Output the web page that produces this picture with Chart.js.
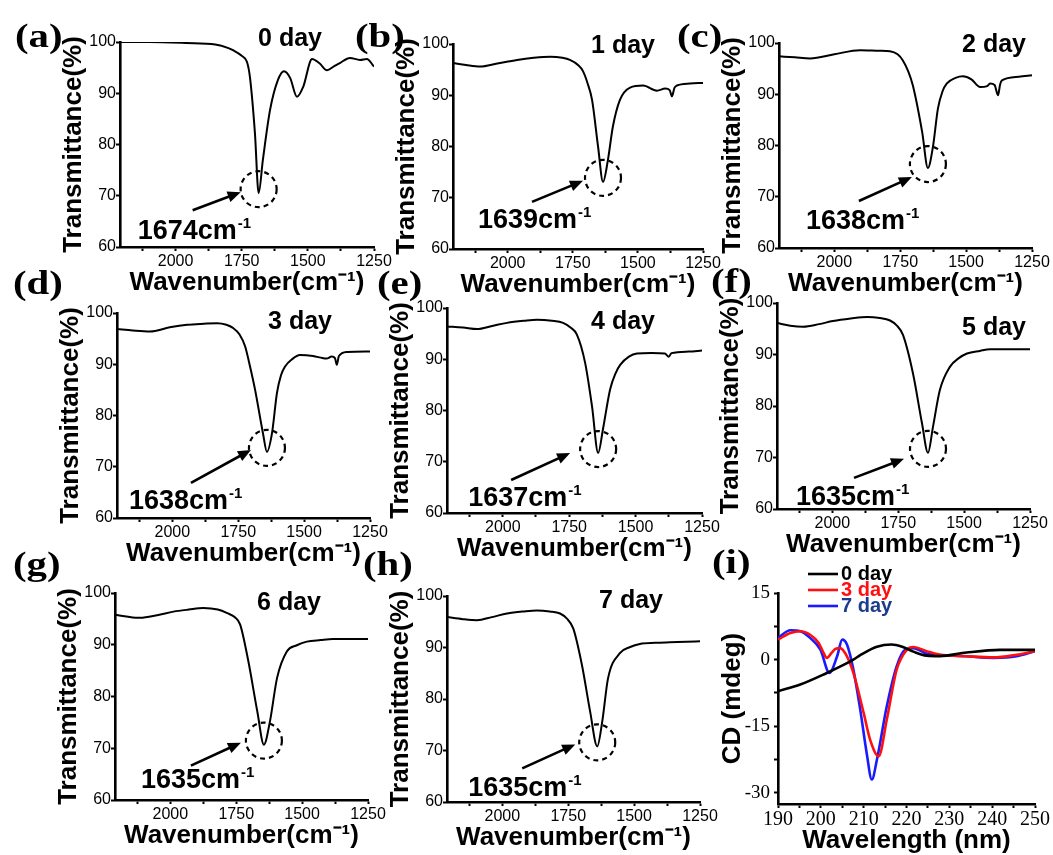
<!DOCTYPE html>
<html>
<head>
<meta charset="utf-8">
<script src="https://cdn.jsdelivr.net/npm/chart.js@4.4.0/dist/chart.umd.min.js"></script>
<style>
  body { margin: 0; background: #fff; }
  #fig { position: relative; width: 1053px; height: 855px; overflow: hidden; background: #fff; }
  #fig canvas { position: absolute; }
  .tag { position: absolute; font: bold 34px 'Liberation Serif', 'Times New Roman', serif; line-height: 1; color: #000;
         transform: scaleX(1.2); transform-origin: left top; white-space: nowrap; }
</style>
</head>
<body>
<div id="fig"></div>
<script>
// FTIR spectra: wavenumber (cm-1) vs transmittance (%), one pair per day
const wnDay0 = [2210, 2100, 1960, 1850, 1800, 1783, 1750, 1730, 1719, 1700, 1686, 1670, 1643, 1613, 1590, 1567, 1541, 1518, 1484, 1455, 1428, 1400, 1379, 1341, 1303, 1277, 1250];
const trDay0 = [100, 100, 99.8, 99.5, 98.8, 98.4, 97.3, 96.1, 93.2, 82.2, 70.5, 77, 86.7, 92.6, 94.3, 93.0, 89.3, 91.2, 96.7, 95.8, 94.5, 95.3, 95.9, 96.9, 96.5, 96.7, 95.2];

const wnDay1 = [2210, 2160, 2106, 2040, 1964, 1900, 1837, 1790, 1761, 1730, 1711, 1693, 1676, 1653, 1634, 1615, 1596, 1569, 1530, 1480, 1427, 1395, 1378, 1369, 1360, 1350, 1300, 1250];
const trDay1 = [96.3, 95.9, 95.6, 96.2, 96.9, 97.3, 97.5, 97.3, 96.9, 95.9, 94.7, 92.3, 89.1, 80.0, 73.1, 77.4, 83.9, 89.1, 91.5, 91.9, 90.9, 91.3, 91.0, 89.8, 91.4, 91.9, 92.3, 92.4];

const wnDay2 = [2210, 2150, 2092, 2000, 1903, 1830, 1789, 1760, 1740, 1720, 1702, 1667, 1645, 1626, 1607, 1590, 1573, 1540, 1512, 1480, 1447, 1420, 1409, 1392, 1379, 1371, 1364, 1300, 1250];
const trDay2 = [97.4, 97.2, 97.0, 97.8, 98.6, 98.5, 98.4, 97.8, 96.6, 94.5, 91.7, 82.7, 75.6, 79.7, 87.2, 90.5, 92.1, 93.2, 93.5, 92.9, 91.4, 91.6, 92.1, 91.8, 89.8, 91.9, 92.7, 93.4, 93.7];

const wnDay3 = [2210, 2150, 2085, 2010, 1944, 1880, 1830, 1795, 1770, 1745, 1724, 1705, 1686, 1656, 1641, 1622, 1603, 1588, 1573, 1545, 1516, 1466, 1430, 1415, 1395, 1383, 1376, 1368, 1337, 1250];
const trDay3 = [96.9, 96.6, 96.4, 97.2, 97.7, 97.9, 98.0, 97.7, 97.1, 95.8, 93.5, 89.5, 85.0, 76.5, 72.9, 76.5, 84.4, 87.8, 89.5, 91.0, 91.8, 91.6, 91.2, 91.1, 91.5, 91.2, 89.9, 91.6, 92.4, 92.5];

const wnDay4 = [2210, 2150, 2097, 2040, 1984, 1920, 1871, 1815, 1773, 1745, 1721, 1690, 1664, 1641, 1623, 1596, 1575, 1558, 1525, 1495, 1440, 1390, 1375, 1365, 1300, 1250];
const trDay4 = [96.4, 96.2, 95.9, 96.5, 97.1, 97.5, 97.7, 97.5, 97.1, 96.2, 94.8, 89.3, 80.8, 71.7, 76.3, 84.1, 87.3, 88.9, 90.5, 91.1, 91.2, 91.1, 90.5, 91.2, 91.5, 91.7];

const wnDay5 = [2210, 2160, 2111, 2050, 1998, 1930, 1868, 1820, 1781, 1755, 1732, 1694, 1660, 1637, 1618, 1592, 1554, 1520, 1489, 1440, 1402, 1330, 1250];
const trDay5 = [96.1, 95.6, 95.4, 95.9, 96.5, 97.0, 97.3, 97.1, 96.6, 95.6, 93.8, 86.3, 76.7, 70.9, 76.0, 83.1, 87.6, 89.3, 90.2, 90.7, 91.0, 91.0, 91.0];

const wnDay6 = [2210, 2160, 2115, 2050, 1988, 1930, 1875, 1820, 1784, 1755, 1735, 1704, 1670, 1645, 1622, 1595, 1558, 1520, 1482, 1430, 1383, 1300, 1250];
const trDay6 = [95.8, 95.4, 95.2, 95.7, 96.4, 96.8, 97.1, 96.8, 96.1, 95.3, 93.9, 86.8, 77.1, 70.7, 75.2, 83.6, 88.7, 89.9, 90.6, 90.9, 91.1, 91.1, 91.1];

const wnDay7 = [2210, 2150, 2096, 2040, 1982, 1920, 1869, 1820, 1781, 1755, 1731, 1698, 1667, 1640, 1621, 1599, 1554, 1515, 1478, 1420, 1364, 1300, 1250];
const trDay7 = [95.9, 95.5, 95.3, 95.9, 96.6, 97.0, 97.2, 97.0, 96.6, 95.6, 93.7, 86.6, 77.6, 70.8, 75.6, 84.0, 88.9, 90.1, 90.7, 90.9, 91.0, 91.1, 91.2];

const dayLabels = ['0 day', '1 day', '2 day', '3 day', '4 day', '5 day', '6 day', '7 day'];
const peakLabels = ['1674', '1639', '1638', '1638', '1637', '1635', '1635', '1635'];
const irTicks = [2125, 2000, 1875, 1750, 1625, 1500, 1375, 1250];
const irTickLabels = [2000, 1750, 1500, 1250];
const trTicks = [60, 70, 80, 90, 100];

// CD spectra
const cdWl0 = [190, 195.2, 201.4, 205.3, 207.6, 209.2, 213.1, 216.5, 219, 221.6, 224.7, 227.8, 234, 241.8, 250];
const cdVal0 = [-7.1, -5.6, -3.0, -1.2, 0, 1.0, 2.9, 3.4, 2.9, 1.8, 0.9, 0.8, 1.6, 2.2, 2.2];
const cdWl3 = [190, 192.9, 195.2, 197.5, 199.5, 200.5, 201.4, 202.5, 203.4, 204.5, 206.1, 207.6, 210, 211.5, 213.5, 215.4, 217.7, 220.1, 221.6, 224.7, 227.8, 234, 240.3, 245.7, 250];
const cdVal3 = [4.5, 6.0, 6.4, 5.6, 3.75, 1.8, 0.4, 1.5, 2.4, 2.6, 0.75, -3.0, -12, -18, -21.75, -13.5, -2.25, 2.25, 2.85, 1.9, 1.1, 0.75, 0.5, 1.1, 1.9];
const cdWl7 = [190, 192.9, 195.2, 197.5, 199.9, 202, 203.8, 205, 206.1, 207.6, 209.2, 210.7, 211.9, 213.1, 215.4, 217.7, 219.7, 221.6, 224.7, 229.4, 234, 240.3, 245.7, 250];
const cdVal7 = [4.9, 6.6, 6.4, 4.9, 2.25, -3.0, 0.75, 4.5, 3.4, -2.25, -11.25, -21, -27, -22.5, -10.5, -1.5, 2.25, 2.6, 1.35, 1.0, 0.75, 0.4, 0.75, 1.9];
const cdLabels = ['0 day', '3 day', '7 day'];
const cdXTicks = [190, 195, 200, 205, 210, 215, 220, 225, 230, 235, 240, 245, 250];
const cdXTickLabels = [190, 200, 210, 220, 230, 240, 250];
const cdYTicks = [-30, -22.5, -15, -7.5, 0, 7.5, 15];
const cdYTickLabels = [-30, -15, 0, 15];

const sans = "'Liberation Sans', Arial, Helvetica, sans-serif";
const serif = "'Liberation Serif', 'Times New Roman', serif";
Chart.defaults.font.family = sans;
Chart.defaults.color = '#000';

const fig = document.getElementById('fig');

// plot boxes on the page: left, top, right, bottom
const boxes = [
    [120, 42, 374, 247], [453, 44, 703, 249], [779, 43, 1032, 248],
    [117, 313, 370, 518], [447, 308, 702, 513], [777, 303, 1030, 509],
    [115, 593, 368, 800], [447, 596, 700, 802], [778, 593, 1035, 804]
];
// where the day title, arrow and peak label sit, relative to plot / circle
const notes = [
    {dayAt: [170, 4],  arrow: [-66, 21, -18, 3],  label: [-121, 50]},
    {dayAt: [170, 9],  arrow: [-71, 24, -20, 3],  label: [-125, 50]},
    {dayAt: [215, 9],  arrow: [-69, 37, -16, 13], label: [-122, 65]},
    {dayAt: [183, 16], arrow: [-76, 35, -16, 2],  label: [-138, 61]},
    {dayAt: [176, 21], arrow: [-87, 31, -28, 4],  label: [-130, 57]},
    {dayAt: [217, 32], arrow: [-74, 29, -24, 10], label: [-132, 56]},
    {dayAt: [174, 17], arrow: [-73, 25, -23, 2],  label: [-123, 47]},
    {dayAt: [184, 12], arrow: [-75, 26, -22, 2],  label: [-129, 54]}
];
const tags = [['(a)', 15, 19], ['(b)', 355, 19], ['(c)', 677, 19],
              ['(d)', 13, 266], ['(e)', 377, 266], ['(f)', 711, 264],
              ['(g)', 13, 547], ['(h)', 363, 547], ['(i)', 712, 545]];

function makeCanvas(left, top, w, h) {
    const c = document.createElement('canvas');
    c.width = w; c.height = h;
    c.style.left = left + 'px'; c.style.top = top + 'px';
    c.style.width = w + 'px'; c.style.height = h + 'px';
    fig.appendChild(c);
    return c;
}

function fixWidth(w) {
    return function (scale) { scale.width = w; scale.paddingTop = 0; scale.paddingBottom = 0; };
}
function fixHeight(h) {
    return function (scale) { scale.height = h; scale.paddingLeft = 0; scale.paddingRight = 0; };
}

const axisGrid = {display: true, drawOnChartArea: false, drawTicks: true, tickLength: 4, tickWidth: 2, tickColor: '#000'};
const axisBorder = {display: true, color: '#000', width: 2.6};

const notePlugin = {
    id: 'note',
    afterDatasetsDraw(chart, args, opts) {
        const {ctx, chartArea, scales: {x, y}} = chart;
        const pts = chart.data.datasets[0].data;
        let dip = pts[0];
        pts.forEach(p => { if (p.y < dip.y) dip = p; });
        const cx = x.getPixelForValue(dip.x);
        const cy = y.getPixelForValue(dip.y) - 4;
        ctx.save();
        ctx.strokeStyle = '#000';
        ctx.fillStyle = '#000';
        ctx.lineWidth = 2.2;
        ctx.setLineDash([5, 4]);
        ctx.beginPath();
        ctx.arc(cx, cy, 18, 0, Math.PI * 2);
        ctx.stroke();
        ctx.setLineDash([]);

        const [sx, sy, ex, ey] = opts.arrow;
        const x0 = cx + sx, y0 = cy + sy, x1 = cx + ex, y1 = cy + ey;
        const a = Math.atan2(y1 - y0, x1 - x0);
        const ca = Math.cos(a), sa = Math.sin(a);
        ctx.lineWidth = 2.6;
        ctx.beginPath();
        ctx.moveTo(x0, y0);
        ctx.lineTo(x1 - 8 * ca, y1 - 8 * sa);
        ctx.stroke();
        ctx.beginPath();
        ctx.moveTo(x1, y1);
        ctx.lineTo(x1 - 13 * ca + 5.5 * sa, y1 - 13 * sa - 5.5 * ca);
        ctx.lineTo(x1 - 13 * ca - 5.5 * sa, y1 - 13 * sa + 5.5 * ca);
        ctx.closePath();
        ctx.fill();

        ctx.textAlign = 'left';
        ctx.textBaseline = 'alphabetic';
        ctx.font = 'bold 27px ' + sans;
        const tx = cx + opts.label[0], ty = cy + opts.label[1];
        const main = opts.peak + 'cm';
        ctx.fillText(main, tx, ty);
        const w = ctx.measureText(main).width;
        ctx.font = 'bold 15px ' + sans;
        ctx.fillText('-1', tx + w + 1, ty - 11);

        ctx.font = 'bold 25px ' + sans;
        ctx.textAlign = 'center';
        ctx.fillText(opts.day, chartArea.left + opts.dayAt[0], chartArea.top + opts.dayAt[1]);
        ctx.restore();
    }
};

const irSets = [[wnDay0, trDay0], [wnDay1, trDay1], [wnDay2, trDay2], [wnDay3, trDay3],
                [wnDay4, trDay4], [wnDay5, trDay5], [wnDay6, trDay6], [wnDay7, trDay7]];

irSets.forEach(([wn, tr], i) => {
    const [l, t, r, b] = boxes[i];
    const pad = {left: 5, top: 30, right: 30, bottom: 4};
    const yW = 62, xH = 51;
    const canvas = makeCanvas(l - yW - pad.left, t - pad.top, (r - l) + yW + pad.left + pad.right, (b - t) + pad.top + xH + pad.bottom);
    new Chart(canvas.getContext('2d'), {
        type: 'line',
        data: {
            datasets: [{
                data: wn.map((w, k) => ({x: w, y: tr[k]})),
                borderColor: '#000',
                borderWidth: 2,
                pointRadius: 0,
                cubicInterpolationMode: 'monotone'
            }]
        },
        options: {
            responsive: false,
            animation: false,
            layout: {padding: pad},
            plugins: {
                legend: {display: false},
                tooltip: {enabled: false},
                note: Object.assign({day: dayLabels[i], peak: peakLabels[i]}, notes[i])
            },
            scales: {
                x: {
                    type: 'linear', reverse: true, min: 1250, max: 2210,
                    afterBuildTicks: s => { s.ticks = irTicks.map(v => ({value: v})); },
                    afterFit: fixHeight(xH),
                    grid: axisGrid, border: axisBorder,
                    ticks: {padding: 1, autoSkip: false, maxRotation: 0, font: {size: 16},
                            callback: v => irTickLabels.includes(v) ? String(v) : ''},
                    title: {display: true, text: 'Wavenumber(cm\u207B\u00B9)', padding: 0, font: {size: 26, weight: 'bold'}}
                },
                y: {
                    min: 60, max: 100,
                    afterBuildTicks: s => { s.ticks = trTicks.map(v => ({value: v})); },
                    afterFit: fixWidth(yW),
                    grid: axisGrid, border: axisBorder,
                    ticks: {padding: 0, font: {size: 16}, callback: v => String(v)},
                    title: {display: true, text: 'Transmittance(%)', padding: 0, font: {size: 26, weight: 'bold'}}
                }
            }
        },
        plugins: [notePlugin]
    });
});

// CD panel
const cdColors = ['#000000', '#ff1010', '#1a1aff'];
const cdTextColors = ['#000000', '#ff1010', '#1c3b8c'];
const cdLegend = {
    id: 'cdLegend',
    afterDatasetsDraw(chart) {
        const {ctx, chartArea} = chart;
        const rows = [-19, -3, 13];
        ctx.save();
        ctx.font = 'bold 20px ' + sans;
        ctx.textAlign = 'left';
        ctx.textBaseline = 'middle';
        chart.data.datasets.forEach((ds, k) => {
            const yy = chartArea.top + rows[k];
            ctx.strokeStyle = ds.borderColor;
            ctx.lineWidth = 2.6;
            ctx.beginPath();
            ctx.moveTo(chartArea.left + 30, yy);
            ctx.lineTo(chartArea.left + 60, yy);
            ctx.stroke();
            ctx.fillStyle = cdTextColors[k];
            ctx.fillText(ds.label, chartArea.left + 63, yy);
        });
        ctx.restore();
    }
};

(function () {
    const [l, t, r, b] = boxes[8];
    const pad = {left: 4, top: 45, right: 18, bottom: 2};
    const yW = 61, xH = 52;
    const canvas = makeCanvas(l - yW - pad.left, t - pad.top, (r - l) + yW + pad.left + pad.right, (b - t) + pad.top + xH + pad.bottom);
    const sets = [[cdWl0, cdVal0], [cdWl3, cdVal3], [cdWl7, cdVal7]];
    new Chart(canvas.getContext('2d'), {
        type: 'line',
        data: {
            datasets: sets.map(([wl, v], k) => ({
                label: cdLabels[k],
                data: wl.map((w, j) => ({x: w, y: v[j]})),
                borderColor: cdColors[k],
                borderWidth: 2.6,
                pointRadius: 0,
                cubicInterpolationMode: 'monotone'
            }))
        },
        options: {
            responsive: false,
            animation: false,
            layout: {padding: pad},
            plugins: {legend: {display: false}, tooltip: {enabled: false}},
            scales: {
                x: {
                    type: 'linear', min: 190, max: 250,
                    afterBuildTicks: s => { s.ticks = cdXTicks.map(v => ({value: v})); },
                    afterFit: fixHeight(xH),
                    grid: axisGrid, border: axisBorder,
                    ticks: {padding: 0, autoSkip: false, maxRotation: 0, font: {size: 20, family: serif},
                            callback: v => cdXTickLabels.includes(v) ? String(v) : ''},
                    title: {display: true, text: 'Wavelength (nm)', padding: 0, font: {size: 26, weight: 'bold'}}
                },
                y: {
                    min: -32.5, max: 15,
                    afterBuildTicks: s => { s.ticks = cdYTicks.map(v => ({value: v})); },
                    afterFit: fixWidth(yW),
                    grid: axisGrid, border: axisBorder,
                    ticks: {padding: 4, font: {size: 19, family: serif},
                            callback: v => cdYTickLabels.includes(v) ? String(v) : ''},
                    title: {display: true, text: 'CD (mdeg)', padding: 0, font: {size: 26, weight: 'bold'}}
                }
            }
        },
        plugins: [cdLegend]
    });
})();

tags.forEach(([txt, x, y]) => {
    const d = document.createElement('div');
    d.className = 'tag';
    d.textContent = txt;
    d.style.left = x + 'px';
    d.style.top = y + 'px';
    fig.appendChild(d);
});
</script>
</body>
</html>
